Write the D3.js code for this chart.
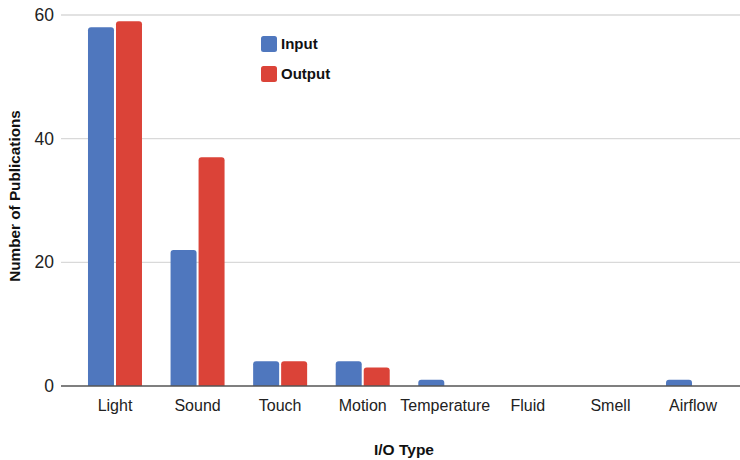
<!DOCTYPE html>
<html><head><meta charset="utf-8">
<script src="https://cdn.jsdelivr.net/npm/d3@7"></script>
<style>body{margin:0;background:#fff;font-family:"Liberation Sans",Arial,sans-serif}</style>
</head><body><svg id="c" width="740" height="460"></svg>
<script>
const categories = ["Light","Sound","Touch","Motion","Temperature","Fluid","Smell","Airflow"];
const inputValues = [58,22,4,4,1,0,0,1];
const outputValues = [59,37,4,3,0,0,0,0];
const seriesNames = ["Input","Output"];
const yTicks = [0,20,40,60];
const colors = ["#4f77be","#db4338"];

(function(){
const svg = d3.select("#c");
const mLeft = 61, mRight = 740, mTop = 15, mBottom = 386;
const x = d3.scaleBand().domain(categories).range([73.7, 734.3]).paddingInner(0).paddingOuter(0);
const y = d3.scaleLinear().domain([0,60]).range([mBottom, mTop]);
const barW = 26, gap = 2;

svg.append("g").selectAll("line").data(yTicks.filter(d=>d>0)).join("line")
  .attr("x1", mLeft).attr("x2", mRight).attr("y1", d=>y(d)).attr("y2", d=>y(d))
  .attr("stroke", "#d9d9d9").attr("stroke-width", 1.3);

svg.append("g").selectAll("text").data(yTicks).join("text")
  .attr("x", 54).attr("y", d=>y(d)+6).attr("text-anchor","end")
  .attr("font-size", 17.5).attr("fill","#222").text(d=>d);

function barPath(x0, w, y0, y1, r){
  const h = y1 - y0;
  if (h <= 0) return "";
  r = Math.min(r, h, w/2);
  return `M${x0},${y1} V${y0+r} Q${x0},${y0} ${x0+r},${y0} H${x0+w-r} Q${x0+w},${y0} ${x0+w},${y0+r} V${y1} Z`;
}

const series = [inputValues, outputValues];
series.forEach((vals, si) => {
  svg.append("g").selectAll("path").data(categories.map((c,i)=>({c, v: vals[i]}))).join("path")
    .attr("d", d => {
      const cx = x(d.c) + x.bandwidth()/2;
      const x0 = si === 0 ? cx - gap/2 - barW : cx + gap/2;
      return barPath(x0, barW, y(d.v), y(0), 3);
    })
    .attr("fill", colors[si]);
});

svg.append("line").attr("x1", mLeft).attr("x2", mRight).attr("y1", mBottom).attr("y2", mBottom)
  .attr("stroke", "#555").attr("stroke-width", 1.5);

svg.append("g").selectAll("text").data(categories).join("text")
  .attr("x", d => x(d) + x.bandwidth()/2).attr("y", 411).attr("text-anchor","middle")
  .attr("font-size", 16).attr("fill","#222").text(d=>d);

svg.append("text").attr("x", 404).attr("y", 455).attr("text-anchor","middle")
  .attr("font-size", 15.5).attr("font-weight","bold").attr("fill","#111").text("I/O Type");
svg.append("text").attr("transform","translate(20,196) rotate(-90)").attr("text-anchor","middle")
  .attr("font-size", 15.3).attr("font-weight","bold").attr("fill","#111").text("Number of Publications");

const leg = svg.append("g");
seriesNames.forEach((n,i) => {
  leg.append("rect").attr("x", 261).attr("y", 36 + i*30).attr("width", 16).attr("height", 16)
    .attr("rx", 2.5).attr("fill", colors[i]);
  leg.append("text").attr("x", 281).attr("y", 49 + i*30).attr("font-size", 15)
    .attr("font-weight","bold").attr("fill","#111").text(n);
});
})();
</script></body></html>
